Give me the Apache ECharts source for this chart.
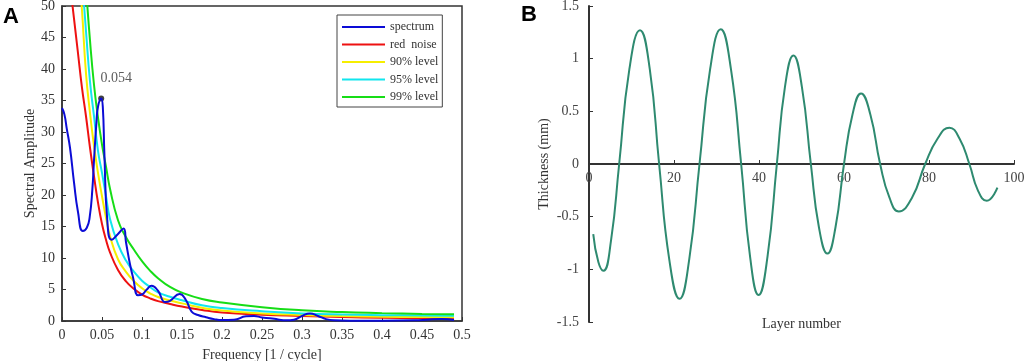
<!DOCTYPE html>
<html>
<head>
<meta charset="utf-8">
<title>Spectrum and thickness</title>
<script src="https://cdn.jsdelivr.net/npm/echarts@6.0.0/dist/echarts.min.js"></script>
<style>
  html, body { margin: 0; padding: 0; background: #fff; }
  #chart { width: 1024px; height: 361px; }
</style>
</head>
<body>
<div id="chart"></div>
<script>
// ---- panel A: power spectrum ----
const levelFreq = [0.01, 0.015, 0.02, 0.025, 0.03, 0.035, 0.04, 0.045, 0.05, 0.055, 0.06, 0.07, 0.08, 0.09,
  0.1, 0.11, 0.12, 0.135, 0.15, 0.175, 0.2, 0.25, 0.3, 0.35, 0.4, 0.45, 0.49]
const redNoise = [53.5, 48, 42.5, 37, 32.5, 27.5, 23, 18.8, 15.4, 12.9, 10.9, 8.1, 6.3, 5.1,
  4.2, 3.6, 3.15, 2.7, 2.3, 1.75, 1.35, 1.0, 0.8, 0.62, 0.52, 0.45, 0.42]
const level90 = [null, null, 58, 49.3, 39.3, 33, 27.8, 23.5, 19.8, 16.4, 13.5, 9.8, 7.8, 6.3,
  5.2, 4.4, 3.8, 3.25, 2.8, 2.1, 1.65, 1.2, 0.95, 0.78, 0.68, 0.62, 0.58]
const level95 = [null, null, null, 54.5, 46, 38, 32.5, 27, 23.5, 19.8, 16.2, 12.2, 9.6, 7.8,
  6.4, 5.4, 4.55, 3.85, 3.3, 2.5, 2.05, 1.55, 1.2, 1.02, 0.93, 0.88, 0.85]
const level99 = [null, null, null, null, 53, 44.5, 37.5, 32.3, 28, 24.5, 21, 16, 13.3, 11.3,
  9.5, 8.0, 6.8, 5.4, 4.5, 3.5, 2.95, 2.2, 1.7, 1.42, 1.25, 1.12, 1.06]

const specFreq = [0, 0.003, 0.006, 0.01, 0.015, 0.02, 0.026, 0.031, 0.0346, 0.038, 0.04, 0.043, 0.045, 0.049,
  0.051, 0.053, 0.0566, 0.062, 0.07, 0.077, 0.08, 0.085, 0.089, 0.095, 0.1, 0.106, 0.112, 0.12, 0.129, 0.135,
  0.147, 0.155, 0.162, 0.17, 0.18, 0.19, 0.2, 0.215, 0.23, 0.24, 0.25, 0.26, 0.27, 0.28, 0.29, 0.3, 0.31,
  0.32, 0.33, 0.34, 0.36, 0.4, 0.44, 0.46, 0.475, 0.49]
const specAmp = [33.8, 32.8, 30.5, 27.5, 22, 17.3, 14.3, 14.8, 16.5, 21, 25.5, 31.4, 34, 35.3,
  34, 26.5, 16, 12.9, 13.8, 14.7, 12.5, 9, 6.8, 4.1, 4.2, 5.0, 5.6, 4.8, 3.0, 3.2,
  4.3, 3.3, 1.5, 0.95, 0.6, 0.3, 0.15, 0.2, 0.75, 0.8, 0.55, 0.45, 0.25, 0.1, 0.2, 0.8, 1.2,
  0.8, 0.3, 0.1, 0.05, 0.05, 0.1, 0.25, 0.3, 0.15]

const peakFreq = 0.049
const peakAmp = 35.3
const peakText = '0.054'

// ---- panel B: layer thickness ----
const layerNo = [1.0, 2.2, 3.4, 5.2, 7.1, 9.5, 12.0, 14.3, 16.5, 18.9, 21.3, 23.6, 26.0, 28.5, 31.0, 33.4,
  35.8, 37.9, 39.9, 42.0, 44.2, 46.1, 48.1, 50.1, 52.2, 54.1, 56.1, 58.0, 60.0, 62.0, 64.0, 66.2,
  68.5, 70.7, 72.9, 76.0, 79.1, 82.0, 84.8, 87.2, 89.5, 91.5, 93.6, 96.1]
const thickness = [-0.665, -0.93, -1.013, -0.72, 0, 0.9, 1.27, 0.9, 0, -0.91, -1.28, -0.9, 0, 0.9, 1.28, 0.9,
  0, -0.88, -1.244, -0.88, 0, 0.73, 1.03, 0.73, 0, -0.6, -0.85, -0.6, 0, 0.47, 0.67, 0.47,
  0, -0.32, -0.45, -0.32, 0, 0.24, 0.345, 0.24, 0, -0.25, -0.35, -0.225]

const serif = 'Liberation Serif'
const axisColor = '#333'

function pairs(xs, ys) {
  const out = []
  xs.forEach((x, i) => {
    if (ys[i] !== null) out.push([x, ys[i]])
  })
  return out
}

function levelLine(name, values, color) {
  return {
    name: name,
    type: 'line',
    xAxisIndex: 0,
    yAxisIndex: 0,
    data: pairs(levelFreq, values),
    smooth: true,
    showSymbol: false,
    clip: true,
    itemStyle: { color: color },
    lineStyle: { color: color, width: 2 }
  }
}

const chart = echarts.init(document.getElementById('chart'), null, { renderer: 'canvas' })

chart.setOption({
  animation: false,
  backgroundColor: '#fff',
  title: [
    { text: 'A', left: 3, top: 6, padding: 0, textStyle: { fontSize: 22, fontWeight: 'bold', fontFamily: 'Liberation Sans', color: '#000' } },
    { text: 'B', left: 521, top: 4, padding: 0, textStyle: { fontSize: 22, fontWeight: 'bold', fontFamily: 'Liberation Sans', color: '#000' } }
  ],
  legend: {
    orient: 'vertical',
    left: 337,
    top: 15,
    padding: [5, 4, 3, 5],
    itemGap: 3.5,
    itemWidth: 43,
    itemHeight: 2,
    icon: 'rect',
    backgroundColor: '#fff',
    borderColor: '#444',
    borderWidth: 1,
    borderRadius: 0,
    textStyle: { fontFamily: serif, fontSize: 12, color: '#333', lineHeight: 14 },
    data: ['spectrum', 'red  noise', '90% level', '95% level', '99% level']
  },
  grid: [
    { left: 62, top: 6, width: 400, height: 315, outerBoundsMode: 'none', show: true, borderColor: axisColor, borderWidth: 1.5, backgroundColor: 'transparent' },
    { left: 589, top: 6, width: 425, height: 316, outerBoundsMode: 'none' }
  ],
  xAxis: [
    {
      gridIndex: 0,
      type: 'value',
      min: 0,
      max: 0.5,
      interval: 0.05,
      name: 'Frequency [1 / cycle]',
      nameLocation: 'middle',
      nameGap: 27,
      nameMoveOverlap: false,
      nameTextStyle: { fontFamily: serif, fontSize: 14, color: axisColor },
      axisLine: { lineStyle: { color: axisColor, width: 1.5 } },
      axisTick: { inside: true, length: 4, lineStyle: { color: axisColor } },
      axisLabel: { fontFamily: serif, fontSize: 14, color: axisColor, margin: 7 },
      splitLine: { show: false }
    },
    {
      // axis drawn across the middle of the panel, at thickness 0
      gridIndex: 1,
      type: 'value',
      min: 0,
      max: 100,
      interval: 20,
      offset: -158,
      name: 'Layer number',
      nameLocation: 'middle',
      nameGap: 153,
      nameMoveOverlap: false,
      nameTextStyle: { fontFamily: serif, fontSize: 14, color: axisColor },
      axisLine: { onZero: false, lineStyle: { color: axisColor, width: 2 } },
      axisTick: { inside: true, length: 4, lineStyle: { color: axisColor } },
      axisLabel: { fontFamily: serif, fontSize: 14, color: '#444', margin: 7 },
      splitLine: { show: false }
    }
  ],
  yAxis: [
    {
      gridIndex: 0,
      type: 'value',
      min: 0,
      max: 50,
      interval: 5,
      name: 'Spectral Amplitude',
      nameLocation: 'middle',
      nameGap: 25,
      nameMoveOverlap: false,
      nameTextStyle: { fontFamily: serif, fontSize: 14, color: axisColor },
      axisLine: { show: true, lineStyle: { color: axisColor, width: 1.5 } },
      axisTick: { show: true, inside: true, length: 4, lineStyle: { color: axisColor } },
      axisLabel: { fontFamily: serif, fontSize: 14, color: axisColor, margin: 7 },
      splitLine: { show: false }
    },
    {
      gridIndex: 1,
      type: 'value',
      min: -1.5,
      max: 1.5,
      interval: 0.5,
      name: 'Thickness (mm)',
      nameLocation: 'middle',
      nameGap: 38,
      nameMoveOverlap: false,
      nameTextStyle: { fontFamily: serif, fontSize: 14, color: axisColor },
      axisLine: { show: true, lineStyle: { color: axisColor, width: 2 } },
      axisTick: { show: true, inside: true, length: 4, lineStyle: { color: axisColor } },
      axisLabel: { fontFamily: serif, fontSize: 14, color: '#444', margin: 10 },
      splitLine: { show: false }
    }
  ],
  series: [
    levelLine('red  noise', redNoise, '#ee1111'),
    levelLine('90% level', level90, '#f6ee00'),
    levelLine('95% level', level95, '#11e6ee'),
    levelLine('99% level', level99, '#16dd16'),
    {
      name: 'spectrum',
      type: 'line',
      xAxisIndex: 0,
      yAxisIndex: 0,
      data: pairs(specFreq, specAmp),
      smooth: true,
      showSymbol: false,
      clip: true,
      itemStyle: { color: '#0c0cd6' },
      lineStyle: { color: '#0c0cd6', width: 2 }
    },
    {
      name: 'peak',
      type: 'scatter',
      xAxisIndex: 0,
      yAxisIndex: 0,
      data: [[peakFreq, peakAmp]],
      symbolSize: 6,
      itemStyle: { color: '#111' },
      label: {
        show: true,
        position: 'top',
        offset: [15, -5],
        formatter: peakText,
        fontFamily: serif,
        fontSize: 14,
        color: axisColor
      }
    },
    {
      name: 'thickness',
      type: 'line',
      xAxisIndex: 1,
      yAxisIndex: 1,
      data: pairs(layerNo, thickness),
      smooth: 0.5,
      showSymbol: false,
      itemStyle: { color: '#2e8a70' },
      lineStyle: { color: '#2e8a70', width: 2 }
    }
  ]
})
</script>
</body>
</html>
